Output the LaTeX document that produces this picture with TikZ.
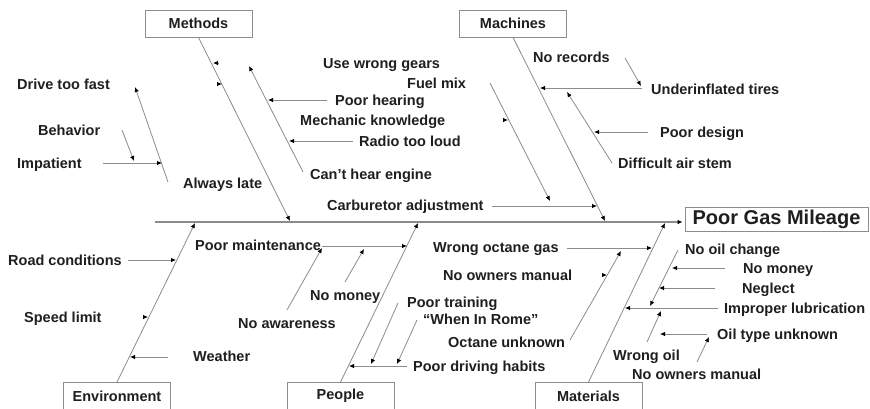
\documentclass[tikz,border=0pt]{standalone}
\usepackage{fontspec}
\setmainfont{Liberation Sans}
\usetikzlibrary{arrows.meta}
\definecolor{linegray}{gray}{0.55}
\definecolor{txt}{gray}{0.12}
\tikzset{
  lbl/.style={anchor=west,inner sep=0pt,text height=10.5pt,text depth=0pt,
    font=\fontsize{14.5}{16}\selectfont\bfseries,text=txt},
  catbox/.style={draw=linegray,line width=0.8pt,minimum width=107pt,minimum height=27pt,
    inner sep=0pt,font=\fontsize{14.5}{16}\selectfont\bfseries,text=txt},
  goalbox/.style={draw=linegray,line width=0.8pt,minimum width=183pt,minimum height=24pt,
    inner sep=0pt,font=\fontsize{20}{22}\selectfont\bfseries,text=txt},
  bone/.style={linegray,line width=0.8pt,-{Latex[length=5pt,width=4.5pt,color=black]}},
  spine/.style={linegray,line width=1.6pt,-{Latex[length=5pt,width=4.5pt,color=black]}}
}
\begin{document}
\begin{tikzpicture}[x=1pt,y=-1pt]
\useasboundingbox[fill=white] (0,0) rectangle (870,408);

% head and spine
\node[goalbox] (goal) at (776.5,219) {Poor Gas Mileage};
\coordinate (tail) at (155,222);
\draw[spine,shorten >=2pt] (tail) -- (tail -| goal.west);

% category boxes
\node[catbox] (meth) at (198.5,23.5) {Methods};
\node[catbox] (mach) at (513,23.5) {Machines};
\node[catbox] (env) at (117,396) {Environment};
\node[catbox] (peop) at (340.5,396) {People};
\node[catbox] (matl) at (588.5,396) {Materials};

\coordinate (m0) at (290,221);
\coordinate (c0) at (605,221);
\coordinate (e0) at (195,223);
\coordinate (p0) at (418,223);
\coordinate (t0) at (665,223);
\draw[bone] (meth.south) -- (m0);
\draw[bone] (mach.south) -- (c0);
\draw[bone] (env.north) -- (e0);
\draw[bone] (peop.north) -- (p0);
\draw[bone] (matl.north) -- (t0);

% methods
\node[lbl] (fast) at (17,84) {Drive too fast};
\node[lbl] (behav) at (38,130) {Behavior};
\node[lbl] (impat) at (17,163) {Impatient};
\node[lbl] (late) at (183,183) {Always late};
\node[lbl] (gears) at (323,63) {Use wrong gears};
\node[lbl] (hear) at (335,100) {Poor hearing};
\node[lbl] (mech) at (300,120) {Mechanic knowledge};
\node[lbl] (radio) at (359,141) {Radio too loud};
\node[lbl] (engine) at (310,174) {Can't hear engine};

\coordinate (fa) at (168,182); \coordinate (fb) at (135,87);
\coordinate (ba) at (122,130); \coordinate (bb) at (134,161);
\coordinate (ia) at (103,163); \coordinate (ib) at (162,163);
\coordinate (ca) at (303,172); \coordinate (cb) at (249,66);
\coordinate (ha) at (327,100); \coordinate (hb) at (268,100);
\coordinate (ra) at (353,141); \coordinate (rb) at (289,141);
\coordinate (s1) at (213,63); \coordinate (s2) at (222,84);
\draw[bone] (fa) -- (fb);
\draw[bone] (ba) -- (bb);
\draw[bone] (ia) -- (ib);
\draw[bone] (ca) -- (cb);
\draw[bone] (ha) -- (hb);
\draw[bone] (ra) -- (rb);
\draw[bone] ([xshift=5pt]s1) -- (s1);
\draw[bone] ([xshift=-5pt]s2) -- (s2);

% machines
\node[lbl] (fuel) at (407,83) {Fuel mix};
\node[lbl] (carb) at (327,205) {Carburetor adjustment};
\node[lbl] (recs) at (533,57) {No records};
\node[lbl] (tires) at (651,89) {Underinflated tires};
\node[lbl] (design) at (660,132) {Poor design};
\node[lbl] (stem) at (618,163) {Difficult air stem};

\coordinate (xa) at (490,83); \coordinate (xb) at (550,201);
\coordinate (ka) at (492,206); \coordinate (kb) at (597,206);
\coordinate (na) at (625,58); \coordinate (nb) at (641,86);
\coordinate (ua) at (642,88); \coordinate (ub) at (540,88);
\coordinate (da) at (612,163); \coordinate (db) at (567,92);
\coordinate (ga) at (648,132); \coordinate (gb) at (594,132);
\coordinate (s3) at (508,120);
\draw[bone] (xa) -- (xb);
\draw[bone] (ka) -- (kb);
\draw[bone] (na) -- (nb);
\draw[bone] (ua) -- (ub);
\draw[bone] (da) -- (db);
\draw[bone] (ga) -- (gb);
\draw[bone] ([xshift=-5pt]s3) -- (s3);

% environment
\node[lbl] (road) at (8,260) {Road conditions};
\node[lbl] (speed) at (24,317) {Speed limit};
\node[lbl] (weather) at (193,356) {Weather};

\coordinate (rca) at (128,260); \coordinate (rcb) at (176,260);
\coordinate (wa) at (168,357); \coordinate (wb) at (130,357);
\coordinate (s4) at (148,317);
\draw[bone] (rca) -- (rcb);
\draw[bone] (wa) -- (wb);
\draw[bone] ([xshift=-5pt]s4) -- (s4);

% people
\node[lbl] (maint) at (195,245) {Poor maintenance};
\node[lbl] (money1) at (310,295) {No money};
\node[lbl] (aware) at (238,323) {No awareness};
\node[lbl] (train) at (407,302) {Poor training};
\node[lbl] (rome) at (423,319) {``When In Rome''};
\node[lbl] (habits) at (413,366) {Poor driving habits};

\coordinate (pma) at (322,246); \coordinate (pmb) at (407,246);
\coordinate (awa) at (287,310); \coordinate (awb) at (322,248);
\coordinate (nma) at (345,282); \coordinate (nmb) at (364,249);
\coordinate (pta) at (398,303); \coordinate (ptb) at (371,364);
\coordinate (wra) at (417,320); \coordinate (wrb) at (397,364);
\coordinate (pda) at (407,366); \coordinate (pdb) at (349,366);
\draw[bone] (pma) -- (pmb);
\draw[bone] (awa) -- (awb);
\draw[bone] (nma) -- (nmb);
\draw[bone] (pta) -- (ptb);
\draw[bone] (wra) -- (wrb);
\draw[bone] (pda) -- (pdb);

% materials
\node[lbl] (octane) at (433,247) {Wrong octane gas};
\node[lbl] (manual1) at (443,275) {No owners manual};
\node[lbl] (unknown) at (448,342) {Octane unknown};
\node[lbl] (change) at (685,249) {No oil change};
\node[lbl] (money2) at (743,268) {No money};
\node[lbl] (neglect) at (742,288) {Neglect};
\node[lbl] (lube) at (724,308) {Improper lubrication};
\node[lbl] (oiltype) at (717,334) {Oil type unknown};
\node[lbl] (wrongoil) at (613,355) {Wrong oil};
\node[lbl] (manual2) at (632,374) {No owners manual};

\coordinate (woa) at (567,248); \coordinate (wob) at (652,248);
\coordinate (oua) at (570,340); \coordinate (oub) at (621,251);
\coordinate (noa) at (678,250); \coordinate (nob) at (650,306);
\coordinate (mna) at (725,268); \coordinate (mnb) at (672,268);
\coordinate (nga) at (715,288); \coordinate (ngb) at (659,288);
\coordinate (ila) at (718,308); \coordinate (ilb) at (625,308);
\coordinate (wla) at (647,342); \coordinate (wlb) at (661,311);
\coordinate (ota) at (707,334); \coordinate (otb) at (660,334);
\coordinate (nwa) at (697,362); \coordinate (nwb) at (709,337);
\coordinate (s5) at (607,275);
\draw[bone] (woa) -- (wob);
\draw[bone] (oua) -- (oub);
\draw[bone] (noa) -- (nob);
\draw[bone] (mna) -- (mnb);
\draw[bone] (nga) -- (ngb);
\draw[bone] (ila) -- (ilb);
\draw[bone] (wla) -- (wlb);
\draw[bone] (ota) -- (otb);
\draw[bone] (nwa) -- (nwb);
\draw[bone] ([xshift=-5pt]s5) -- (s5);
\end{tikzpicture}
\end{document}
